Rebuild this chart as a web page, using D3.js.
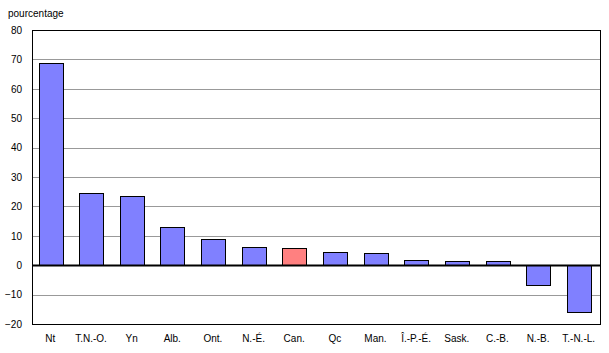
<!DOCTYPE html>
<html>
<head>
<meta charset="utf-8">
<script src="https://cdn.jsdelivr.net/npm/d3@7.9.0/dist/d3.min.js"></script>
<style>
  body { margin: 0; background: #fff; }
  svg text { font-family: "Liberation Sans", Arial, sans-serif; font-size: 10px; fill: #000; }
</style>
</head>
<body>
<svg id="chart" width="609" height="353"></svg>
<script>
// provinces / territories, in chart order
const categories = ['Nt', 'T.N.-O.', 'Yn', 'Alb.', 'Ont.', 'N.-É.', 'Can.', 'Qc', 'Man.', 'Î.-P.-É.', 'Sask.', 'C.-B.', 'N.-B.', 'T.-N.-L.'];
const values = [68.8, 24.5, 23.5, 12.9, 8.8, 6.1, 5.7, 4.4, 4.0, 1.7, 1.3, 1.3, -6.8, -16.0];
const yTicks = [80, 70, 60, 50, 40, 30, 20, 10, 0, -10, -20];
const highlight = 'Can.';

const svg = d3.select('#chart');
const pLeft = 32, pRight = 600, pTop = 30, pBottom = 324;

// bars sit a touch left of band centre in the original
const x = d3.scaleBand().domain(categories).range([pLeft - 2, pRight - 1]).paddingInner(0.42).paddingOuter(0.21);
const y = d3.scaleLinear().domain([-20, 80]).range([pBottom, pTop]);

// gridlines
svg.append('g').selectAll('line').data(yTicks.filter(d => d !== 0 && d !== 80 && d !== -20)).join('line')
  .attr('x1', pLeft).attr('x2', pRight)
  .attr('y1', d => Math.round(y(d)) + 0.5).attr('y2', d => Math.round(y(d)) + 0.5)
  .attr('stroke', '#999').attr('stroke-width', 1);

// bars
svg.append('g').selectAll('rect').data(categories).join('rect')
  .attr('x', d => Math.round(x(d)) + 0.5)
  .attr('y', (d, i) => Math.round(y(Math.max(0, values[i]))) + 0.5)
  .attr('width', Math.round(x.bandwidth()))
  .attr('height', (d, i) => Math.round(Math.abs(y(values[i]) - y(0))))
  .attr('fill', d => d === highlight ? '#ff8080' : '#8080ff')
  .attr('stroke', '#000').attr('stroke-width', 1);

// zero line
svg.append('line').attr('x1', pLeft).attr('x2', pRight)
  .attr('y1', Math.round(y(0)) + 0.5).attr('y2', Math.round(y(0)) + 0.5)
  .attr('stroke', '#000').attr('stroke-width', 2);

// frame
svg.append('rect').attr('x', pLeft + 0.5).attr('y', pTop + 0.5)
  .attr('width', pRight - pLeft).attr('height', pBottom - pTop)
  .attr('fill', 'none').attr('stroke', '#000').attr('stroke-width', 1);

// y axis labels
const yAxis = d3.axisLeft(y).tickValues(yTicks).tickSize(0).tickPadding(10);
svg.append('g').attr('transform', `translate(${pLeft},0)`).call(yAxis)
  .call(g => g.select('.domain').remove())
  .selectAll('text').style('font-family', '"Liberation Sans", Arial, sans-serif').style('font-size', '10px');

// x axis labels
const xAxis = d3.axisBottom(x).tickSize(0).tickPadding(11);
svg.append('g').attr('transform', `translate(0,${pBottom})`).call(xAxis)
  .call(g => g.select('.domain').remove())
  .selectAll('text').style('font-family', '"Liberation Sans", Arial, sans-serif').style('font-size', '10px');

svg.append('text').attr('x', 8).attr('y', 17).text('pourcentage');
</script>
</body>
</html>
